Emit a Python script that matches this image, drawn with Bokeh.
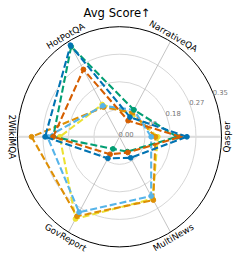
import numpy as np
from bokeh.plotting import figure
from bokeh.models import ColumnDataSource, Range1d
from bokeh.core.properties import value
from bokeh.embed import file_html
from bokeh.resources import INLINE

# ---- data ----
categories = ["Qasper", "NarrativeQA", "HotPotQA", "2WikiMQA", "GovReport", "MultiNews"]
angles_deg = [0, 60, 120, 180, 240, 300]
tick_labels = ["0.00", "0.09", "0.18", "0.27", "0.35"]
r_max = 0.354
title_text = "Avg Score\u2191"

s_yellow = [0.133, 0.085, 0.120, 0.207, 0.305, 0.230]
s_orange = [0.125, 0.090, 0.110, 0.305, 0.295, 0.235]
s_sky = [0.110, 0.100, 0.115, 0.250, 0.280, 0.220]
s_green = [0.200, 0.100, 0.335, 0.230, 0.045, 0.055]
s_red = [0.212, 0.060, 0.250, 0.230, 0.065, 0.058]
s_blue = [0.234, 0.073, 0.340, 0.258, 0.080, 0.078]

series = [s_yellow, s_orange, s_sky, s_green, s_red, s_blue]
colors = ["#ECE133", "#DE8F05", "#56B4E9", "#029E73", "#D55E00", "#0173B2"]

# ---- geometry / style ----
W, H = 236, 260
kx, ky = W / 244.0, H / 268.0
cx_px, cy_px = 123.0 * kx, 140.5 * ky
sx, sy = 298.0 * kx, 320.6 * ky
label_r = 0.374

p = figure(width=W, height=H,
           x_range=Range1d(-cx_px / sx, (W - cx_px) / sx),
           y_range=Range1d(-(H - cy_px) / sy, cy_px / sy),
           output_backend="svg", toolbar_location=None,
           x_axis_location=None, y_axis_location=None, min_border=0)
p.grid.visible = False
p.outline_line_color = None
p.background_fill_color = "white"

th = np.deg2rad(np.array(angles_deg, dtype=float))
ring_r = np.linspace(0, r_max, len(tick_labels))

# rings
for r in ring_r[1:-1]:
    p.ellipse(x=0, y=0, width=2 * r, height=2 * r, fill_color=None,
              line_color="#cccccc", line_width=0.8)

# spokes
p.segment(x0=0, y0=0, x1=r_max * np.cos(th), y1=r_max * np.sin(th),
          line_color="#b5b5b5", line_width=0.8)
p.segment(x0=-r_max, y0=0, x1=r_max, y1=0, line_color="#dddddd", line_width=2)

# outer circle
p.ellipse(x=0, y=0, width=2 * r_max, height=2 * r_max, fill_color=None,
          line_color="black", line_width=1)

# tick labels
ta = np.deg2rad(22.5)
p.text(x=ring_r * np.cos(ta), y=ring_r * np.sin(ta), text=tick_labels,
       text_font=value("DejaVu Sans"), text_font_size="6.8px", text_color="#777777",
       text_align="left", text_baseline="bottom", x_offset=-1)

# series
for vals, col in zip(series, colors):
    v = np.array(vals)
    xs = np.append(v * np.cos(th), v[0] * np.cos(th[0]))
    ys = np.append(v * np.sin(th), v[0] * np.sin(th[0]))
    p.line(xs, ys, line_color=col, line_width=2.1, line_dash="7 3")
    p.scatter(v * np.cos(th), v * np.sin(th), size=4.8, fill_color=col, line_color=col)

# category labels
rot = []
for a in angles_deg:
    if 0 < a < 180:
        rot.append(a - 90)
    else:
        r_ = (a + 90) % 360
        rot.append(r_ - 360 if r_ > 180 else r_)
src = ColumnDataSource(dict(x=label_r * np.cos(th), y=label_r * np.sin(th),
                            text=categories, angle=np.deg2rad(rot)))
p.text(x="x", y="y", text="text", angle="angle", source=src,
       text_font=value("DejaVu Sans"), text_font_size="8.8px", text_color="black",
       text_align="center", text_baseline="middle")

# title
p.text(x=[-0.008], y=[0.398], text=[title_text], text_font=value("DejaVu Sans"),
       text_font_size="11.6px", text_color="black", text_align="center",
       text_baseline="middle")

open("out.html", "w").write(file_html(p, INLINE))
